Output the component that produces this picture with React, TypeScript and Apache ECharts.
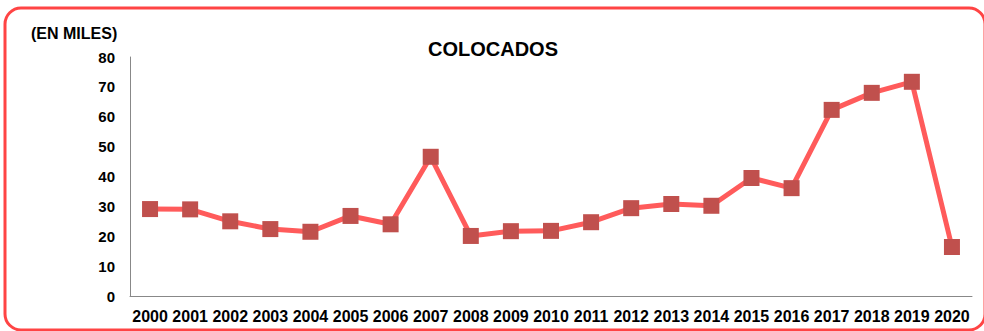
import React, { useEffect, useRef } from "react";
import * as echarts from "echarts";

const years = ["2000","2001","2002","2003","2004","2005","2006","2007","2008","2009","2010","2011","2012","2013","2014","2015","2016","2017","2018","2019","2020"];
const colocados = [29.1, 29, 25, 22.4, 21.5, 26.8, 24, 46.6, 20.1, 21.7, 21.8, 24.7, 29.4, 30.8, 30.2, 39.5, 36.1, 62.3, 68, 71.7, 16.4];

export default function App() {
  const ref = useRef<HTMLDivElement>(null);
  useEffect(() => {
    if (!ref.current) return;
    const chart = echarts.init(ref.current, undefined, { renderer: "svg" });
    const font = "'Liberation Sans', Arial, sans-serif";
    chart.setOption({
      animation: false,
      backgroundColor: "#ffffff",
      textStyle: { fontFamily: font },
      title: {
        text: "COLOCADOS",
        left: 488,
        top: 34,
        textAlign: "center",
        textStyle: { fontFamily: font, fontSize: 20, fontWeight: "bold", color: "#000" },
      },
      graphic: [
        {
          type: "rect",
          shape: { x: 5, y: 8, width: 980, height: 322, r: 16 },
          style: { fill: "none", stroke: "#ff4444", lineWidth: 3 },
          silent: true,
        },
        {
          type: "text",
          left: 31,
          top: 25,
          style: { text: "(EN MILES)", font: "bold 16px 'Liberation Sans', Arial, sans-serif", fill: "#000" },
        },
      ],
      grid: { left: 130, right: 12, top: 57, bottom: 35, containLabel: false },
      xAxis: {
        type: "category",
        data: years,
        boundaryGap: true,
        axisLine: { lineStyle: { color: "#888", width: 1 } },
        axisTick: { show: false },
        axisLabel: { color: "#000", fontWeight: "bold", fontSize: 16, fontFamily: font, margin: 12, interval: 0 },
      },
      yAxis: {
        type: "value",
        min: 0,
        max: 80,
        interval: 10,
        axisLine: { show: true, lineStyle: { color: "#888", width: 1 } },
        axisTick: { show: false },
        splitLine: { show: false },
        axisLabel: { color: "#000", fontWeight: "bold", fontSize: 15, fontFamily: font, margin: 15 },
      },
      series: [
        {
          type: "line",
          data: colocados,
          symbol: "rect",
          symbolSize: 16,
          lineStyle: { color: "#ff5b5b", width: 5 },
          itemStyle: { color: "#c0504d" },
        },
      ],
    });
    return () => chart.dispose();
  }, []);
  return <div ref={ref} style={{ position: "fixed", left: 0, top: 0, width: 984, height: 331 }} />;
}
